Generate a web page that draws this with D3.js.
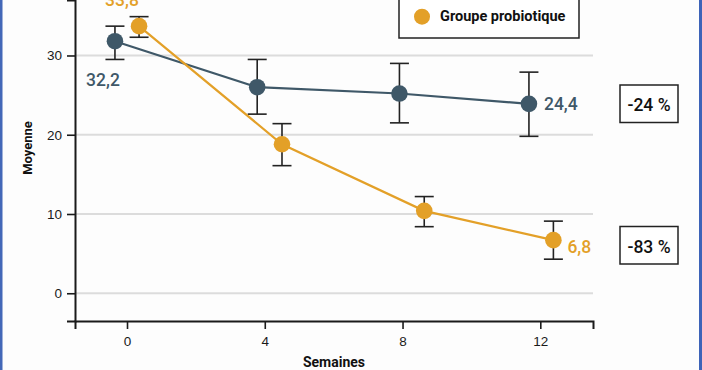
<!DOCTYPE html>
<html>
<head>
<meta charset="utf-8">
<script src="https://cdn.jsdelivr.net/npm/d3@7"></script>
<style>
  body { margin: 0; background: #fdfdfd; }
  svg { display: block; font-family: Roboto, "DejaVu Sans", sans-serif; }
</style>
</head>
<body>
<div id="chart"></div>
<script>
// data
const weekTicks = [0, 4, 8, 12];
const yTicks = [0, 10, 20, 30];

const controlWeeks = [-0.35, 3.78, 7.91, 11.67];
const controlMean = [31.8, 26.0, 25.2, 23.9];
const controlLow = [29.5, 22.6, 21.5, 19.8];
const controlHigh = [33.7, 29.5, 29.0, 27.9];

const probioWeeks = [0.35, 4.5, 8.63, 12.38];
const probioMean = [33.7, 18.8, 10.4, 6.7];
const probioLow = [32.3, 16.1, 8.4, 4.3];
const probioHigh = [34.9, 21.4, 12.2, 9.1];

const endLabels = ["32,2", "33,8", "24,4", "6,8"];
const changeLabels = ["-24 %", "-83 %"];

const slate = "#3f5868";
const orange = "#e3a028";

const svgWidth = 702;
const svgHeight = 370;

const margin = { top: 0, right: 109, bottom: 49, left: 75 };
const width = svgWidth - margin.left - margin.right;
const height = svgHeight - margin.top - margin.bottom;

const svg = d3.select("#chart")
  .append("svg")
  .attr("width", svgWidth)
  .attr("height", svgHeight);

// blue frame edges
svg.append("rect").attr("x", 0).attr("y", 0).attr("width", 2.5).attr("height", svgHeight).attr("fill", "#4468b8");
svg.append("rect").attr("x", 699).attr("y", 0).attr("width", 3).attr("height", svgHeight).attr("fill", "#3d63b8");

const chartGroup = svg.append("g")
  .attr("transform", `translate(${margin.left}, ${margin.top})`);

const xScale = d3.scaleLinear()
  .domain([-1.51, 13.53])
  .range([0, width]);

const yScale = d3.scaleLinear()
  .domain([-3.5, 37])
  .range([height, 0]);

// gridlines
chartGroup.selectAll(".grid")
  .data(yTicks)
  .enter()
  .append("line")
  .attr("x1", 0)
  .attr("x2", width)
  .attr("y1", d => yScale(d))
  .attr("y2", d => yScale(d))
  .attr("stroke", "#dcdcdc")
  .attr("stroke-width", 2);

const leftAxis = d3.axisLeft(yScale).tickValues(yTicks).tickSizeOuter(0).tickSize(8).tickPadding(5);
const bottomAxis = d3.axisBottom(xScale).tickValues(weekTicks).tickSizeOuter(0).tickSize(8).tickPadding(7);

const yAxis = chartGroup.append("g").call(leftAxis);
const xAxis = chartGroup.append("g")
  .attr("transform", `translate(0, ${height})`)
  .call(bottomAxis);

[xAxis, yAxis].forEach(ax => {
  ax.select(".domain").attr("stroke", "#1a1a1a").attr("stroke-width", 2);
  ax.selectAll(".tick line").attr("stroke", "#1a1a1a").attr("stroke-width", 1.6);
  ax.selectAll(".tick text").attr("fill", "#1a1a1a").style("font-size", "13.5px");
});

// axis titles
chartGroup.append("text")
  .attr("transform", `translate(${27 - margin.left}, 148) rotate(-90)`)
  .attr("text-anchor", "middle")
  .attr("dy", "0.35em")
  .style("font-size", "13px")
  .style("font-weight", "bold")
  .attr("fill", "#111")
  .text("Moyenne");

chartGroup.append("text")
  .attr("x", 334 - margin.left)
  .attr("y", 367)
  .attr("text-anchor", "middle")
  .style("font-size", "14px")
  .style("font-weight", "bold")
  .attr("fill", "#111")
  .text("Semaines");

function drawSeries(weeks, mean, low, high, color) {
  const pts = weeks.map((w, i) => ({ w: w, m: mean[i], lo: low[i], hi: high[i] }));

  chartGroup.append("path")
    .datum(pts)
    .attr("fill", "none")
    .attr("stroke", color)
    .attr("stroke-width", 2.2)
    .attr("d", d3.line().x(d => xScale(d.w)).y(d => yScale(d.m)));

  const bars = chartGroup.append("g")
    .attr("stroke", "#222")
    .attr("stroke-width", 1.6);
  pts.forEach(d => {
    const cx = xScale(d.w);
    bars.append("line").attr("x1", cx).attr("x2", cx).attr("y1", yScale(d.hi)).attr("y2", yScale(d.lo));
    bars.append("line").attr("x1", cx - 9.5).attr("x2", cx + 9.5).attr("y1", yScale(d.hi)).attr("y2", yScale(d.hi));
    bars.append("line").attr("x1", cx - 9.5).attr("x2", cx + 9.5).attr("y1", yScale(d.lo)).attr("y2", yScale(d.lo));
  });

  chartGroup.selectAll(null)
    .data(pts)
    .enter()
    .append("circle")
    .attr("cx", d => xScale(d.w))
    .attr("cy", d => yScale(d.m))
    .attr("r", 8.3)
    .attr("fill", color);
}

drawSeries(controlWeeks, controlMean, controlLow, controlHigh, slate);
drawSeries(probioWeeks, probioMean, probioLow, probioHigh, orange);

// value labels
const valLabel = (x, y, txt, color, anchor) => chartGroup.append("text")
  .attr("x", x - margin.left)
  .attr("y", y)
  .attr("text-anchor", anchor)
  .style("font-size", "17.5px")
  .style("font-weight", 500)
  .attr("fill", color)
  .text(txt);

valLabel(103, 86, endLabels[0], slate, "middle");
valLabel(122, 6, endLabels[1], orange, "middle");
valLabel(xScale(controlWeeks[3]) + margin.left + 15, yScale(controlMean[3]) + 6, endLabels[2], slate, "start");
valLabel(xScale(probioWeeks[3]) + margin.left + 14, yScale(probioMean[3]) + 13, endLabels[3], orange, "start");

// legend (top part cut off)
const legend = svg.append("g");
legend.append("rect")
  .attr("x", 399).attr("y", -20)
  .attr("width", 180).attr("height", 58)
  .attr("fill", "#fff")
  .attr("stroke", "#222")
  .attr("stroke-width", 1.5);
legend.append("circle").attr("cx", 422).attr("cy", 16.7).attr("r", 8).attr("fill", orange);
legend.append("text")
  .attr("x", 440).attr("y", 21)
  .style("font-size", "14.5px")
  .style("font-weight", "bold")
  .attr("fill", "#111")
  .text("Groupe probiotique");

// change boxes
const boxTops = [85, 226.5];
changeLabels.forEach((txt, i) => {
  svg.append("rect")
    .attr("x", 620).attr("y", boxTops[i])
    .attr("width", 58).attr("height", 37.5)
    .attr("fill", "#fff")
    .attr("stroke", "#222")
    .attr("stroke-width", 1.5);
  svg.append("text")
    .attr("x", 649).attr("y", boxTops[i] + 26)
    .attr("text-anchor", "middle")
    .style("font-size", "17.5px")
    .style("font-weight", 500)
    .attr("fill", "#111")
    .text(txt);
});
</script>
</body>
</html>
